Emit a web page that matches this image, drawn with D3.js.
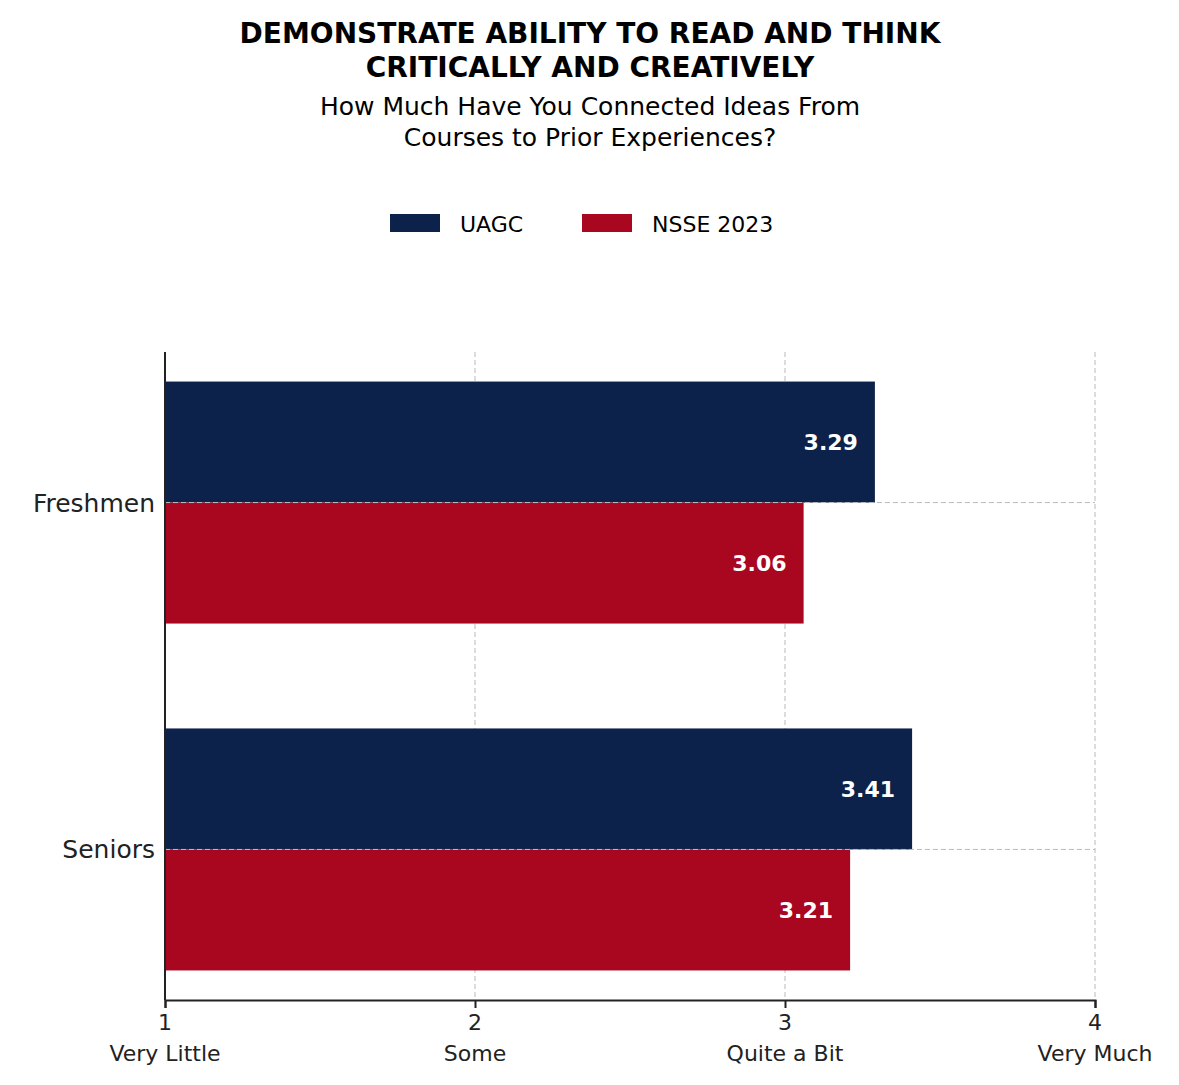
<!DOCTYPE html>
<html><head><meta charset="utf-8">
<script src="https://cdn.jsdelivr.net/npm/d3@7"></script>
<style>body{margin:0;background:#fff;font-family:"DejaVu Sans",sans-serif;}</style>
</head><body>
<script>
var categories = ['Freshmen', 'Seniors'];
var series = ['UAGC', 'NSSE 2023'];
var uagc = [3.29, 3.41];
var nsse = [3.06, 3.21];
var tickValues = [1, 2, 3, 4];
var tickLabels = ['Very Little', 'Some', 'Quite a Bit', 'Very Much'];
var colors = ['#0d224a', '#a90620'];

var W = 1179, H = 1085;
var svg = d3.select('body').append('svg').attr('width', W).attr('height', H);

// titles
svg.append('text').attr('x', 590).attr('y', 43).attr('text-anchor', 'middle')
    .style('font-size', '28px').style('font-weight', 'bold').text('DEMONSTRATE ABILITY TO READ AND THINK');
svg.append('text').attr('x', 590).attr('y', 77).attr('text-anchor', 'middle')
    .style('font-size', '28px').style('font-weight', 'bold').text('CRITICALLY AND CREATIVELY');
svg.append('text').attr('x', 590).attr('y', 115).attr('text-anchor', 'middle')
    .style('font-size', '25px').text('How Much Have You Connected Ideas From');
svg.append('text').attr('x', 590).attr('y', 146).attr('text-anchor', 'middle')
    .style('font-size', '25px').text('Courses to Prior Experiences?');

// legend
var legX = [390, 582];
series.forEach(function(s, i) {
    svg.append('rect').attr('x', legX[i]).attr('y', 214).attr('width', 50).attr('height', 18).attr('fill', colors[i]);
    svg.append('text').attr('x', legX[i] + 70).attr('y', 232).style('font-size', '22px').text(s);
});

var x = d3.scaleLinear().domain([1, 4]).range([165, 1095]);
var y = d3.scalePoint().domain(categories).range([352, 1000]).padding(0.434);
var barH = 121;

// grid
svg.selectAll('.vgrid').data(tickValues.slice(1)).enter().append('line')
    .attr('x1', function(d) { return x(d); }).attr('x2', function(d) { return x(d); })
    .attr('y1', 352).attr('y2', 1000)
    .attr('stroke', '#bbb').attr('stroke-dasharray', '5,3').attr('stroke-width', 1);

// bars
var data = [];
categories.forEach(function(c, i) {
    data.push({cat: c, s: 0, v: uagc[i]});
    data.push({cat: c, s: 1, v: nsse[i]});
});
svg.selectAll('.bar').data(data).enter().append('rect')
    .attr('x', x(1))
    .attr('y', function(d) { return y(d.cat) - (d.s === 0 ? barH : 0); })
    .attr('width', function(d) { return x(d.v) - x(1); })
    .attr('height', barH)
    .attr('fill', function(d) { return colors[d.s]; });
svg.selectAll('.lbl').data(data).enter().append('text')
    .attr('x', function(d) { return x(d.v) - 17; })
    .attr('y', function(d) { return y(d.cat) + (d.s === 0 ? -barH / 2 : barH / 2) + 8; })
    .attr('text-anchor', 'end').attr('fill', '#fff')
    .style('font-size', '22px').style('font-weight', 'bold')
    .text(function(d) { return d.v.toFixed(2); });

svg.selectAll('.hgrid').data(categories).enter().append('line')
    .attr('x1', 165).attr('x2', 1095)
    .attr('y1', function(d) { return y(d); }).attr('y2', function(d) { return y(d); })
    .attr('stroke', '#bbb').attr('stroke-dasharray', '5,3').attr('stroke-width', 1);

// axes
svg.append('line').attr('x1', 165).attr('x2', 165).attr('y1', 352).attr('y2', 1000)
    .attr('stroke', '#222').attr('stroke-width', 2);
var axX = svg.append('g').attr('transform', 'translate(0,1000)')
    .call(d3.axisBottom(x).tickValues(tickValues).tickSize(8).tickFormat(''));
axX.select('.domain').attr('stroke', '#222').attr('stroke-width', 2);
axX.selectAll('.tick line').attr('stroke', '#222').attr('stroke-width', 2);
tickValues.forEach(function(t, i) {
    svg.append('text').attr('x', x(t)).attr('y', 1030).attr('text-anchor', 'middle')
        .style('font-size', '22px').attr('fill', '#222').text(t);
    svg.append('text').attr('x', x(t)).attr('y', 1061).attr('text-anchor', 'middle')
        .style('font-size', '22px').attr('fill', '#222').text(tickLabels[i]);
});
categories.forEach(function(c) {
    svg.append('text').attr('x', 155).attr('y', y(c) + 9).attr('text-anchor', 'end')
        .style('font-size', '25px').attr('fill', '#222').text(c);
});
</script>
</body></html>
